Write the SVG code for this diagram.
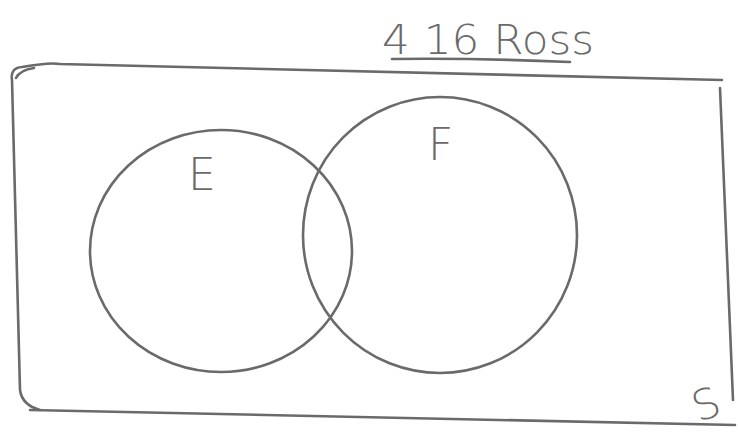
<svg xmlns="http://www.w3.org/2000/svg" width="738" height="440" viewBox="0 0 738 440">
<style>
.ln{fill:none;stroke:#6a6a6a;stroke-width:2.6;stroke-linecap:round;stroke-linejoin:round}
.lbl{font-family:"DejaVu Sans","Liberation Sans",sans-serif;fill:#6a6a6a;font-weight:200}
</style>
<rect width="738" height="440" fill="#ffffff"/>
<g id="title">
<text class="lbl" x="382" y="54" font-size="40" textLength="212" lengthAdjust="spacingAndGlyphs">4 16 Ross</text>
<path class="ln" d="M392 59 Q480 58 570 62"/>
</g>
<g id="universe">
<path class="ln" d="M40 410 Q22 405 20 390 L12 80 Q10 68 22 67 Q50 62 60 64 L722 80"/>
<path class="ln" d="M720 88 L733 400"/>
<path class="ln" d="M30 410 Q380 418 735 425"/>
<path class="ln" d="M16 78 Q20 70 34 68"/>
<text class="lbl" x="692" y="418" font-size="42" transform="rotate(-20 708 402)">S</text>
</g>
<g id="E">
<ellipse class="ln" cx="221" cy="251" rx="131" ry="121"/>
<text class="lbl" x="188" y="190" font-size="44">E</text>
</g>
<g id="F">
<ellipse class="ln" cx="440" cy="235" rx="137" ry="138"/>
<text class="lbl" x="428" y="160" font-size="44">F</text>
</g>
</svg>
